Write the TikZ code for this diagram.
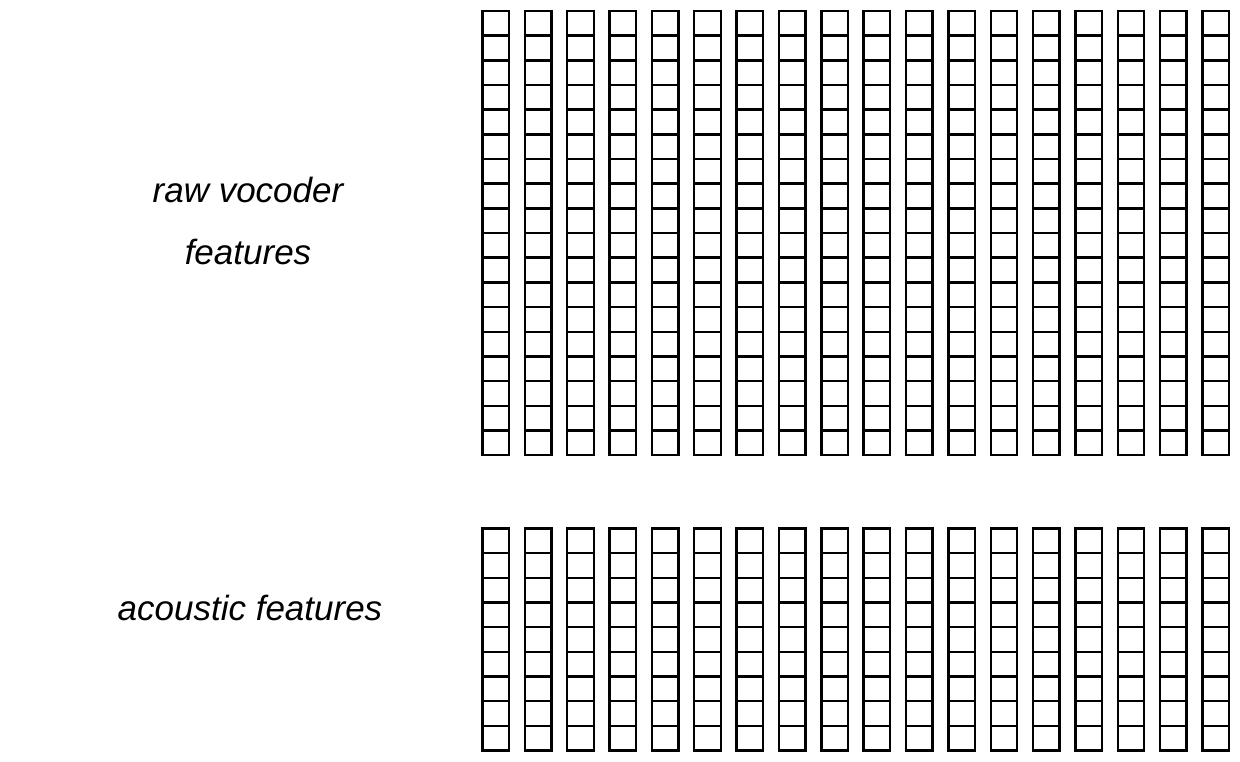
\documentclass[tikz,border=0pt]{standalone}
\usepackage{fontspec}
\setmainfont{Liberation Sans}
\usetikzlibrary{positioning}
\begin{document}
\begin{tikzpicture}[x=1pt, y=-1pt, line width=2.4pt,
    featlabel/.style={font=\fontsize{35}{62}\selectfont\itshape, align=center, inner sep=0pt}]
    \useasboundingbox (0,0) rectangle (1240,762);
    \node[featlabel] (raw) at (248,221) {raw vocoder\\features};
    \node[featlabel] (acoustic) at (250,608) {acoustic features};

    % raw vocoder feature frames
    \foreach \i in {0,...,17}
        \foreach \j in {0,...,17}
            \draw (482.5+42.35*\i, 11+24.67*\j) rectangle ++(26.5,24.67);

    % acoustic feature frames
    \foreach \i in {0,...,17}
        \foreach \j in {0,...,8}
            \draw (482.5+42.35*\i, 528.5+24.67*\j) rectangle ++(26.5,24.67);
\end{tikzpicture}
\end{document}
